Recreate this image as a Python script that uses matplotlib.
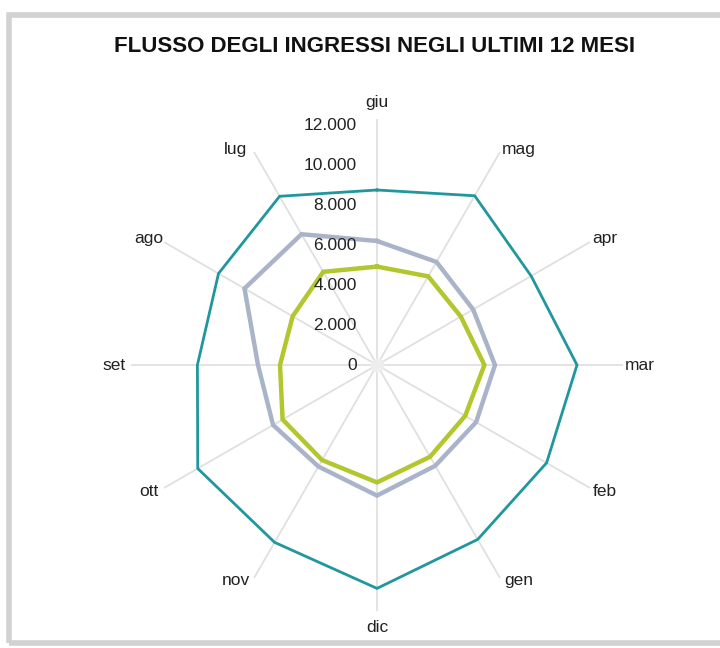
import numpy as np
import matplotlib
matplotlib.use("Agg")
import matplotlib.pyplot as plt
from matplotlib.patches import Rectangle

# Data (clockwise from top)
months = ['giu', 'mag', 'apr', 'mar', 'feb', 'gen', 'dic', 'nov', 'ott', 'set', 'ago', 'lug']
serie_teal = [8750, 9770, 8900, 10000, 9790, 10070, 11170, 10240, 10350, 8980, 9150, 9740]
serie_grigia = [6200, 5950, 5550, 5900, 5720, 5820, 6530, 5860, 6000, 5950, 7650, 7550]
serie_verde = [4920, 5120, 4840, 5370, 5090, 5300, 5870, 5490, 5450, 4850, 4870, 5380]
r_ticks = [0, 2000, 4000, 6000, 8000, 10000, 12000]
r_tick_labels = ['0', '2.000', '4.000', '6.000', '8.000', '10.000', '12.000']
title = 'FLUSSO DEGLI INGRESSI NEGLI ULTIMI 12 MESI'

plt.rcParams['font.family'] = ['Liberation Sans', 'DejaVu Sans']

W, H = 720, 648
fig = plt.figure(figsize=(W / 100, H / 100), dpi=100)
fig.patch.set_facecolor('white')

# frame
fig.patches.append(Rectangle((9 / W, 1 - 643 / H), 720 / W, (643 - 15) / H,
                             transform=fig.transFigure, fill=False,
                             edgecolor='#d2d2d2', linewidth=4))

cx, cy, R = 377, 365, 245
ax = fig.add_axes([(cx - R) / W, 1 - (cy + R) / H, 2 * R / W, 2 * R / H],
                  projection='polar')
ax.set_theta_zero_location('N')
ax.set_theta_direction(-1)
rmax = 12250
ax.set_ylim(0, rmax)
ax.grid(False)
ax.spines['polar'].set_visible(False)
ax.set_xticks([])
ax.set_yticks([])
ax.patch.set_alpha(0)

n = len(months)
theta = np.arange(n) * 2 * np.pi / n

for t in theta:
    ax.plot([t, t], [0, rmax], color='#e0e0e0', lw=1.3, zorder=1, clip_on=False)

def closed(v):
    return np.append(theta, theta[0]), np.append(v, v[0])

for vals, col, lw in [(serie_teal, '#1f979c', 2.0),
                      (serie_grigia, '#aab4c9', 3.2),
                      (serie_verde, '#b2c62e', 3.2)]:
    tt, vv = closed(vals)
    ax.plot(tt, vv, color=col, lw=lw, zorder=3, solid_joinstyle='miter')

ax.plot([0], [0], marker='o', ms=9, color='#eeeeee', zorder=2)

for t, m in zip(theta, months):
    s, c = np.sin(t), np.cos(t)
    dx, dy = 0.0, 0.0
    if abs(abs(c) - np.cos(np.pi / 6)) < 0.01:      # labels 30 deg off vertical
        dx, dy = 10 * np.sign(s), -12 * np.sign(c)
    elif abs(abs(c) - 0.5) < 0.01:                  # labels 60 deg off vertical
        dx, dy = 0, -5 * np.sign(c)
    ax.annotate(m, xy=(t, 13150), xytext=(dx, dy), textcoords='offset pixels',
                ha='center', va='center', fontsize=12.5, color='#222222',
                annotation_clip=False)

for rv, lab in zip(r_ticks, r_tick_labels):
    ax.annotate(lab, xy=(0, rv), xytext=(-20, 0), textcoords='offset pixels',
                ha='right', va='center', fontsize=12.5, color='#222222',
                annotation_clip=False)

fig.text(375 / W, 1 - 47 / H, title, ha='center', va='center',
         fontsize=16, fontweight='bold', color='#111111')

fig.savefig('out.png', dpi=100, facecolor='white')
